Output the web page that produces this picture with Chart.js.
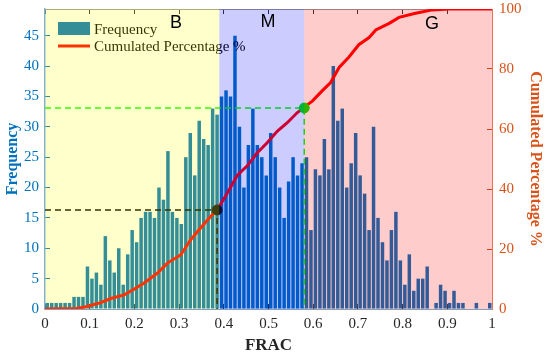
<!DOCTYPE html>
<html>
<head>
<meta charset="utf-8">
<script src="https://cdn.jsdelivr.net/npm/chart.js@4.4.0/dist/chart.umd.min.js"></script>
<style>
  html, body { margin: 0; padding: 0; background: #fff; }
  #wrap { width: 550px; height: 356px; }
</style>
</head>
<body>
<div id="wrap"><canvas id="Chart1"></canvas></div>
<script>

// histogram of FRAC, bins of 0.01 from 0 to 1
const BIN_WIDTH = 0.01;
const freq = [
    1, 1, 1, 1, 1, 1, 2, 2, 2, 7,
    5, 6, 4, 12, 8, 6, 10, 4, 9, 13,
    11, 15, 16, 16, 15, 20, 18, 26, 16, 15,
    14, 25, 29, 22, 31, 28, 27, 33, 32, 35,
    36, 35, 45, 30, 20, 27, 33, 27, 25, 22,
    29, 25, 20, 15, 21, 25, 22, 24, 25, 13,
    23, 22, 28, 23, 40, 31, 33, 20, 24, 29,
    22, 19, 13, 30, 15, 11, 8, 13, 16, 8,
    4, 9, 3, 5, 5, 7, 0, 1, 4, 3,
    1, 3, 1, 1, 0, 0, 1, 0, 0, 1
];

// cumulated percentage curve
const cumX = [0, 0.07, 0.087, 0.125, 0.147, 0.177, 0.199, 0.221, 0.251, 0.274, 0.304, 0.326, 0.348, 0.371, 0.385,
    0.408, 0.43, 0.453, 0.475, 0.497, 0.52, 0.542, 0.564, 0.58,
    0.598, 0.62, 0.639, 0.658, 0.68, 0.702, 0.725, 0.74, 0.77, 0.792, 0.829, 0.867, 0.904, 1];
const cumY = [0, 0.2, 0.6, 2.1, 3.5, 4.7, 6.6, 8.6, 11.9, 15.3, 18.1, 23.1, 27, 30.9, 33,
    38.7, 44.5, 47.8, 52.1, 55.4, 59.3, 62.1, 65.4, 67.3,
    69.3, 72.7, 75.5, 80.5, 84, 88.1, 90.5, 93, 95.2, 97.2, 98.6, 99.7, 100, 100];

// class boundaries and the two marked points
const regionEdges = [0, 0.39, 0.58, 1];
const regionNames = ['B', 'M', 'G'];
const markB = { x: 0.385, y: 33 };
const markM = { x: 0.58, y: 67 };

const xTicks = [0, 0.1, 0.2, 0.3, 0.4, 0.5, 0.6, 0.7, 0.8, 0.9, 1];
const freqTicks = [0, 5, 10, 15, 20, 25, 30, 35, 40, 45];
const pctTicks = [0, 20, 40, 60, 80, 100];

const binLabels = freq.map((v, i) => ((i + 0.5) * BIN_WIDTH).toFixed(3));

const regionTint = ['rgba(255,255,0,0.2)', 'rgba(0,0,255,0.2)', 'rgba(255,0,0,0.2)'];
const regionLabelX = [0.293, 0.499, 0.866];
const regionLabelDy = [14, 13, 15];

const SERIF = '"Liberation Serif", "Times New Roman", serif';

function guide(p) {
    return [{ x: 0, y: p.y }, { x: p.x, y: p.y }, { x: p.x, y: 0 }];
}

const regionsPlugin = {
    id: 'regions',
    afterDatasetsDraw(chart) {
        const { ctx, chartArea: a } = chart;
        const x = chart.scales.x;
        const ds = chart.data.datasets;
        ctx.save();
        // legend inside the axes
        ctx.fillStyle = '#0072BD';
        ctx.fillRect(a.left + 13, a.top + 13, 32, 13);
        ctx.strokeStyle = '#FF0000';
        ctx.lineWidth = 3;
        ctx.beginPath();
        ctx.moveTo(a.left + 13, a.top + 37);
        ctx.lineTo(a.left + 45, a.top + 37);
        ctx.stroke();
        ctx.fillStyle = '#000';
        ctx.font = '15px ' + SERIF;
        ctx.textBaseline = 'middle';
        ctx.textAlign = 'left';
        ctx.fillText(ds[5].label, a.left + 49, a.top + 21);
        ctx.fillText(ds[4].label, a.left + 49, a.top + 38.5);
        // shaded classes over everything
        regionTint.forEach((c, i) => {
            const x0 = x.getPixelForValue(regionEdges[i]);
            const x1 = x.getPixelForValue(regionEdges[i + 1]);
            ctx.fillStyle = c;
            ctx.fillRect(x0, a.top, x1 - x0, a.bottom - a.top);
        });
        ctx.restore();
    },
    afterDraw(chart) {
        const { ctx, chartArea: a } = chart;
        const x = chart.scales.x;
        ctx.save();
        ctx.fillStyle = '#000';
        ctx.font = '18px "Liberation Sans", Arial, sans-serif';
        ctx.textAlign = 'center';
        ctx.textBaseline = 'middle';
        regionNames.forEach((n, i) => {
            ctx.fillText(n, x.getPixelForValue(regionLabelX[i]), a.top + regionLabelDy[i]);
        });
        ctx.restore();
    }
};

function keepTicks(list) {
    return function (scale) {
        scale.ticks = list.map(v => ({ value: v }));
    };
}

function fixWidth(w) {
    return function (scale) {
        scale.width = w;
        scale.paddingTop = 9;
        scale.paddingBottom = 0;
    };
}

function GenerateChart1() {

    const ctx = document.getElementById('Chart1');

    new Chart(ctx, {
        type: 'line',
        data: {
            labels: binLabels,
            datasets: [
                {
                    label: 'B point',
                    data: [markB],
                    xAxisID: 'x',
                    yAxisID: 'y1',
                    showLine: false,
                    pointRadius: 5,
                    pointBackgroundColor: '#111',
                    pointBorderColor: '#111',
                    order: 1
                },
                {
                    label: 'M point',
                    data: [markM],
                    xAxisID: 'x',
                    yAxisID: 'y1',
                    showLine: false,
                    pointRadius: 5,
                    pointBackgroundColor: '#00E000',
                    pointBorderColor: '#00E000',
                    order: 1
                },
                {
                    label: 'B guide',
                    data: guide(markB),
                    xAxisID: 'x',
                    yAxisID: 'y1',
                    pointRadius: 0,
                    borderWidth: 1.5,
                    borderDash: [6, 4],
                    borderColor: '#000',
                    order: 3
                },
                {
                    label: 'M guide',
                    data: guide(markM),
                    xAxisID: 'x',
                    yAxisID: 'y1',
                    pointRadius: 0,
                    borderWidth: 1.5,
                    borderDash: [6, 4],
                    borderColor: '#00FF00',
                    order: 3
                },
                {
                    label: 'Cumulated Percentage %',
                    data: cumX.map((v, i) => ({ x: v, y: cumY[i] })),
                    xAxisID: 'x',
                    yAxisID: 'y1',
                    borderColor: '#FF0000',
                    borderWidth: 3,
                    pointRadius: 0,
                    fill: false,
                    tension: 0,
                    order: 2
                },
                {
                    type: 'bar',
                    label: 'Frequency',
                    data: freq,
                    xAxisID: 'xc',
                    yAxisID: 'y',
                    backgroundColor: '#0072BD',
                    grouped: false,
                    barPercentage: 0.78,
                    categoryPercentage: 1,
                    order: 4
                }
            ]
        },
        options: {
            responsive: true,
            maintainAspectRatio: false,
            animation: false,
            layout: { padding: 0 },
            plugins: {
                legend: { display: false },
                tooltip: { enabled: false }
            },
            scales: {
                xc: {
                    type: 'category',
                    display: false,
                    offset: true
                },
                x: {
                    type: 'linear',
                    position: 'bottom',
                    min: 0,
                    max: 1,
                    offset: false,
                    afterBuildTicks: keepTicks(xTicks),
                    afterFit: s => { s.height = 47; },
                    border: { color: '#7F9FC0', width: 1 },
                    grid: { drawOnChartArea: false, tickLength: -5, color: '#333', offset: false },
                    ticks: { color: '#262626', font: { family: SERIF, size: 15 }, padding: 11, maxRotation: 0, callback: v => String(v) },
                    title: {
                        display: true,
                        text: 'FRAC',
                        color: '#262626',
                        font: { family: SERIF, size: 17, weight: 'bold' },
                        padding: { top: 0, bottom: 0 }
                    }
                },
                xt: {
                    type: 'linear',
                    position: 'top',
                    min: 0,
                    max: 1,
                    afterBuildTicks: keepTicks(xTicks),
                    afterFit: s => { s.height = 0; },
                    border: { color: '#999', width: 1 },
                    grid: { drawOnChartArea: false, tickLength: -5, color: '#333' },
                    ticks: { display: false }
                },
                y: {
                    position: 'left',
                    min: 0,
                    max: 49.4,
                    afterBuildTicks: keepTicks(freqTicks),
                    afterFit: fixWidth(45),
                    border: { color: '#7DAFDC', width: 1.5 },
                    grid: { drawOnChartArea: false, tickLength: -5, color: '#0072BD' },
                    ticks: { color: '#0072BD', font: { family: SERIF, size: 15 }, padding: 11 },
                    title: {
                        display: true,
                        text: 'Frequency',
                        color: '#0072BD',
                        font: { family: SERIF, size: 16, weight: 'bold' },
                        padding: { top: 3, bottom: 0 }
                    }
                },
                y1: {
                    position: 'right',
                    min: 0,
                    max: 100,
                    afterBuildTicks: keepTicks(pctTicks),
                    afterFit: fixWidth(58),
                    border: { color: '#E8735A', width: 1 },
                    grid: { drawOnChartArea: false, tickLength: -5, color: '#D95319' },
                    ticks: { color: '#D95319', font: { family: SERIF, size: 15 }, padding: 12 },
                    title: {
                        display: true,
                        text: 'Cumulated Percentage %',
                        color: '#D95319',
                        font: { family: SERIF, size: 16, weight: 'bold' },
                        padding: { top: 5, bottom: 0 }
                    }
                }
            }
        },
        plugins: [regionsPlugin]
    });

}

GenerateChart1();
</script>
</body>
</html>
